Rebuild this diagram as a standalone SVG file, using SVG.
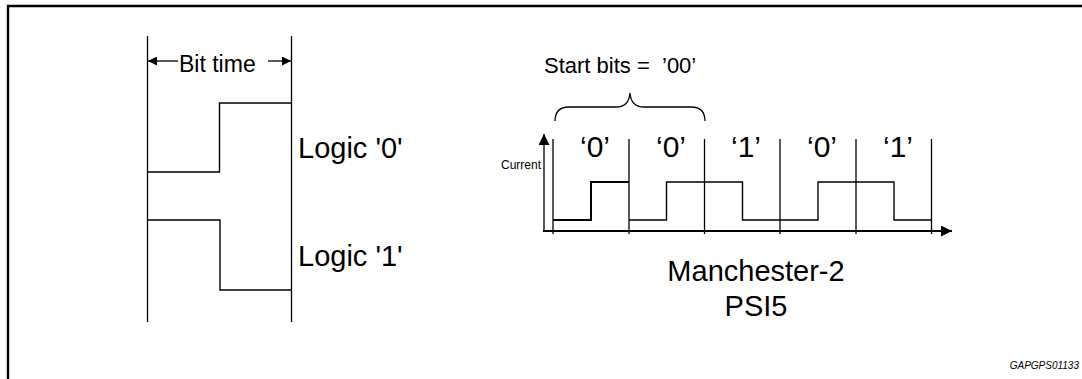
<svg xmlns="http://www.w3.org/2000/svg" width="1082" height="379" viewBox="0 0 1082 379">
<style>
text{font-family:"Liberation Sans",Arial,sans-serif;fill:#000}
.ln{stroke:#000;stroke-width:1.3;fill:none}
.wv{stroke:#000;stroke-width:1.4;fill:none}
.big{font-size:29px}
.bit{font-size:30px;text-anchor:middle}
</style>
<defs>
<marker id="ah" viewBox="0 0 10 10" refX="10" refY="5" markerWidth="10" markerHeight="9" markerUnits="userSpaceOnUse" orient="auto">
<path d="M0,0 L10,5 L0,10 z" fill="#000"/>
</marker>
<marker id="ah2" viewBox="0 0 10 10" refX="10" refY="5" markerWidth="12" markerHeight="11" markerUnits="userSpaceOnUse" orient="auto">
<path d="M0,0 L10,5 L0,10 z" fill="#000"/>
</marker>
</defs>
<rect width="1082" height="379" fill="#fff"/>
<path d="M8,379 V6 H1082" fill="none" stroke="#000" stroke-width="2.4"/>

<g id="logic-encoding">
<line class="ln" x1="147.5" y1="36" x2="147.5" y2="322"/>
<line class="ln" x1="291.5" y1="36" x2="291.5" y2="322"/>
<g id="bit-time">
<line class="ln" x1="178" y1="61" x2="148" y2="61" marker-end="url(#ah)" stroke-width="1.6"/>
<line class="ln" x1="268" y1="61" x2="291" y2="61" marker-end="url(#ah)" stroke-width="1.6"/>
<text x="179" y="72" font-size="23">Bit time</text>
</g>
<g id="logic0">
<path class="wv" d="M147.5,172 H219.5 V103 H292"/>
<text class="big" x="298" y="158">Logic '0'</text>
</g>
<g id="logic1">
<path class="wv" d="M147.5,220 H220 V290 H292"/>
<text class="big" x="298" y="266">Logic '1'</text>
</g>
</g>

<g id="manchester">
<g id="axes">
<line x1="544" y1="231" x2="544" y2="134" stroke="#000" stroke-width="1.3" marker-end="url(#ah2)"/>
<line x1="543" y1="231" x2="952" y2="231" stroke="#000" stroke-width="2" marker-end="url(#ah2)"/>
<text x="541" y="169" font-size="12" text-anchor="end">Current</text>
</g>
<g id="bit-lines">
<line class="ln" x1="553" y1="139" x2="553" y2="234"/>
<line class="ln" x1="629" y1="139" x2="629" y2="234"/>
<line class="ln" x1="704.5" y1="139" x2="704.5" y2="234"/>
<line class="ln" x1="780" y1="139" x2="780" y2="234"/>
<line class="ln" x1="856" y1="139" x2="856" y2="234"/>
<line class="ln" x1="931.5" y1="139" x2="931.5" y2="234"/>
</g>
<g id="waveform">
<path d="M553,220 H591 V182 H629" fill="none" stroke="#000" stroke-width="2"/>
<path class="wv" d="M629,220 H666.5 V182 H742.5 V220 H818 V182 H894 V220 H931.5"/>
</g>
<g id="bit-labels">
<text class="bit" x="595" y="157">‘0’</text>
<text class="bit" x="671" y="157">‘0’</text>
<text class="bit" x="746" y="157">‘1’</text>
<text class="bit" x="822" y="157">‘0’</text>
<text class="bit" x="898" y="157">‘1’</text>
</g>
<g id="start-bits">
<path class="ln" d="M555,121 Q555,107 569,107 H616 Q629,107 630,93 Q631,107 644,107 H691 Q705,107 705,121"/>
<text x="544" y="73" font-size="22">Start bits = <tspan x="662">’00’</tspan></text>
</g>
<text class="big" x="756" y="281" text-anchor="middle">Manchester-2</text>
<text class="big" x="756" y="316" text-anchor="middle">PSI5</text>
</g>

<text x="1079" y="369" font-size="10" font-style="italic" text-anchor="end">GAPGPS01133</text>
</svg>
